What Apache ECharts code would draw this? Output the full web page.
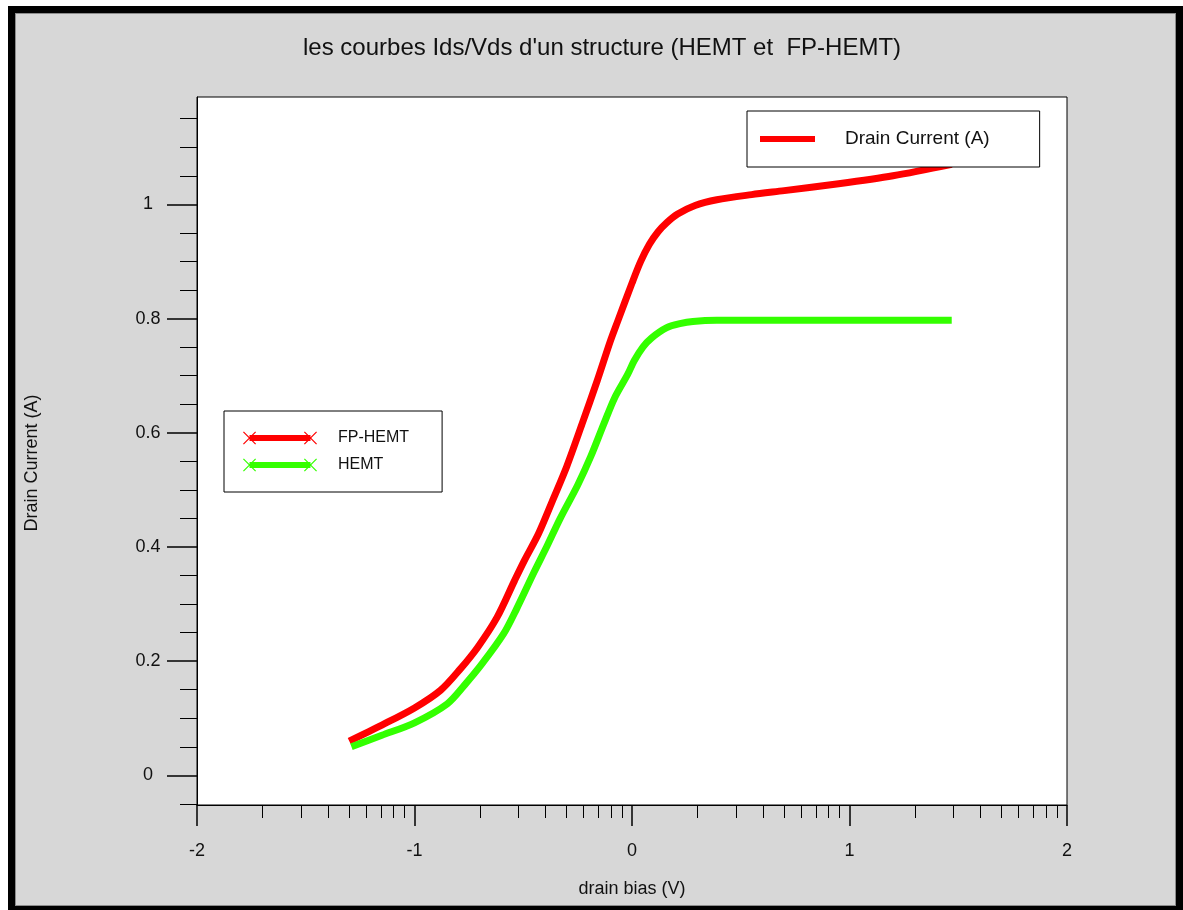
<!DOCTYPE html>
<html>
<head>
<meta charset="utf-8">
<script src="https://cdn.jsdelivr.net/npm/echarts@6/dist/echarts.min.js"></script>
<style>
html, body { margin: 0; padding: 0; background: #fff; width: 1183px; height: 910px; overflow: hidden; }
#frame {
  position: absolute; left: 8px; top: 6px; width: 1175px; height: 904px;
  box-sizing: border-box; border: solid #000; border-width: 7px 7px 4px 7px;
  background: #d7d7d7; box-shadow: inset 1px 1px 0 #8c8c8c, inset -1px -1px 0 #8c8c8c;
}
#chart { width: 1161px; height: 893px; }
</style>
</head>
<body>
<div id="frame"><div id="chart"></div></div>
<script>
// Id-Vd curves for the field-plate HEMT and the plain HEMT
const fpVoltage = [-1.30, -1.15, -1.00, -0.88, -0.79, -0.71, -0.62, -0.54, -0.495, -0.43, -0.36, -0.30, -0.23, -0.16, -0.10, -0.066, 0.00, 0.04, 0.08, 0.12, 0.16, 0.21, 0.29, 0.39, 0.55, 0.70, 0.95, 1.20, 1.47];
const fpCurrent = [0.060, 0.088, 0.118, 0.149, 0.186, 0.224, 0.277, 0.341, 0.376, 0.423, 0.486, 0.541, 0.615, 0.691, 0.760, 0.795, 0.862, 0.900, 0.930, 0.952, 0.968, 0.983, 0.998, 1.008, 1.017, 1.024, 1.036, 1.050, 1.070];

const hemtVoltage = [-1.29, -1.15, -1.00, -0.85, -0.77, -0.69, -0.59, -0.53, -0.45, -0.39, -0.33, -0.25, -0.19, -0.13, -0.08, -0.02, 0.01, 0.05, 0.09, 0.16, 0.22, 0.28, 0.39, 0.80, 1.47];
const hemtCurrent = [0.050, 0.070, 0.092, 0.125, 0.158, 0.195, 0.248, 0.292, 0.356, 0.402, 0.450, 0.508, 0.558, 0.615, 0.661, 0.702, 0.726, 0.750, 0.766, 0.784, 0.791, 0.795, 0.797, 0.797, 0.797];

// axis ticks and labels
const xMajorTicks = [-2, -1, 0, 1, 2];
const yMajorTicks = [0, 0.2, 0.4, 0.6, 0.8, 1];
const yMinorTicks = [-0.05, 0.05, 0.1, 0.15, 0.25, 0.3, 0.35, 0.45, 0.5, 0.55, 0.65, 0.7, 0.75, 0.85, 0.9, 0.95, 1.05, 1.1, 1.15];
// decade-style minor ticks (2..9) inside each unit of the bias axis
const xMinorTicks = [];
for (let k = -2; k < 2; k++) {
  for (let m = 2; m <= 9; m++) xMinorTicks.push(k + Math.log10(m));
}

const titleText = "les courbes Ids/Vds d'un structure (HEMT et  FP-HEMT)";
const xName = 'drain bias (V)';
const yName = 'Drain Current (A)';

const FONT = '"Liberation Sans", Arial, sans-serif';
const RED = '#ff0000';
const GREEN = '#33ff00';

// legend glyph: thick bar with thin crosses at both ends
const crossBarIcon = 'path://' +
  'M0.58,1.42 L12.58,13.42 L13.42,12.58 L1.42,0.58 Z ' +
  'M1.42,13.42 L13.42,1.42 L12.58,0.58 L0.58,12.58 Z ' +
  'M60.58,1.42 L72.58,13.42 L73.42,12.58 L61.42,0.58 Z ' +
  'M61.42,13.42 L73.42,1.42 L72.58,0.58 L60.58,12.58 Z ' +
  'M7,4 L7,10 L67,10 L67,4 Z';

const zip = (xs, ys) => xs.map((x, i) => [x, ys[i]]);

const chart = echarts.init(document.getElementById('chart'), null, { renderer: 'canvas' });

const baseAxisLine = { show: true, onZero: false, lineStyle: { color: '#000', width: 1 } };

chart.setOption({
  animation: false,
  textStyle: { fontFamily: FONT },
  title: {
    text: titleText,
    left: 283,
    top: 18,
    textStyle: { fontFamily: FONT, fontSize: 24, fontWeight: 'normal', color: '#111' }
  },
  grid: {
    left: 182, top: 84, right: 109, bottom: 101,
    outerBoundsMode: 'none', containLabel: false,
    show: true, backgroundColor: '#fff', borderColor: '#000', borderWidth: 1
  },
  legend: [
    {
      data: [{ name: yName, icon: 'path://M0,0 L55,0 L55,6 L0,6 Z' }],
      left: 732, top: 98,
      orient: 'horizontal',
      itemWidth: 55, itemHeight: 6,
      padding: [16, 50, 16, 13],
      backgroundColor: '#fff', borderColor: '#000', borderWidth: 1,
      selectedMode: false,
      textStyle: { fontFamily: FONT, fontSize: 19, color: '#111', lineHeight: 20, padding: [4, 0, 0, 25] }
    },
    {
      data: [{ name: 'FP-HEMT', icon: crossBarIcon }, { name: 'HEMT', icon: crossBarIcon }],
      left: 209, top: 398,
      orient: 'vertical',
      itemWidth: 74, itemHeight: 14, itemGap: 7,
      padding: [17, 33, 17, 19],
      backgroundColor: '#fff', borderColor: '#000', borderWidth: 1,
      selectedMode: false,
      textStyle: { fontFamily: FONT, fontSize: 16, color: '#111', lineHeight: 20, padding: [0, 0, 0, 16] }
    }
  ],
  xAxis: [
    {
      type: 'value', min: -2, max: 2, position: 'bottom',
      axisLine: baseAxisLine,
      axisTick: { show: true, inside: false, length: 21, customValues: xMajorTicks, lineStyle: { color: '#000', width: 1.5 } },
      axisLabel: { show: true, customValues: xMajorTicks, margin: 37, fontSize: 18, color: '#111', fontFamily: FONT },
      splitLine: { show: false },
      name: xName, nameLocation: 'middle', nameGap: 75,
      nameTextStyle: { fontFamily: FONT, fontSize: 18, color: '#111' }
    },
    {
      type: 'value', min: -2, max: 2, position: 'bottom',
      axisLine: { show: false, onZero: false },
      axisTick: { show: true, inside: false, length: 13, customValues: xMinorTicks, lineStyle: { color: '#000', width: 1 } },
      axisLabel: { show: false },
      splitLine: { show: false }
    }
  ],
  yAxis: [
    {
      type: 'value', min: -0.052, max: 1.188, position: 'left',
      axisLine: baseAxisLine,
      axisTick: { show: true, inside: false, length: 30, customValues: yMajorTicks, lineStyle: { color: '#000', width: 1.5 } },
      axisLabel: { show: true, customValues: yMajorTicks, margin: 49, align: 'center', fontSize: 18, color: '#111', fontFamily: FONT, padding: [6, 0, 0, 0] },
      splitLine: { show: false },
      name: yName, nameLocation: 'middle', nameRotate: 90, nameGap: 156,
      nameTextStyle: { fontFamily: FONT, fontSize: 18, color: '#111', padding: [0, 24, 0, 0] }
    },
    {
      type: 'value', min: -0.052, max: 1.188, position: 'left',
      axisLine: { show: false, onZero: false },
      axisTick: { show: true, inside: false, length: 17, customValues: yMinorTicks, lineStyle: { color: '#000', width: 1 } },
      axisLabel: { show: false },
      splitLine: { show: false }
    }
  ],
  series: [
    {
      name: yName, type: 'line', data: [],
      color: RED, itemStyle: { color: RED }, lineStyle: { color: RED, width: 6 }
    },
    {
      name: 'FP-HEMT', type: 'line', xAxisIndex: 0, yAxisIndex: 0,
      data: zip(fpVoltage, fpCurrent),
      showSymbol: false, symbol: 'none',
      smooth: 0.3,
      color: RED, itemStyle: { color: RED },
      lineStyle: { color: RED, width: 7, join: 'round', cap: 'butt' }
    },
    {
      name: 'HEMT', type: 'line', xAxisIndex: 0, yAxisIndex: 0,
      data: zip(hemtVoltage, hemtCurrent),
      showSymbol: false, symbol: 'none',
      smooth: 0.3,
      color: GREEN, itemStyle: { color: GREEN },
      lineStyle: { color: GREEN, width: 7, join: 'round', cap: 'butt' }
    }
  ]
});
</script>
</body>
</html>
